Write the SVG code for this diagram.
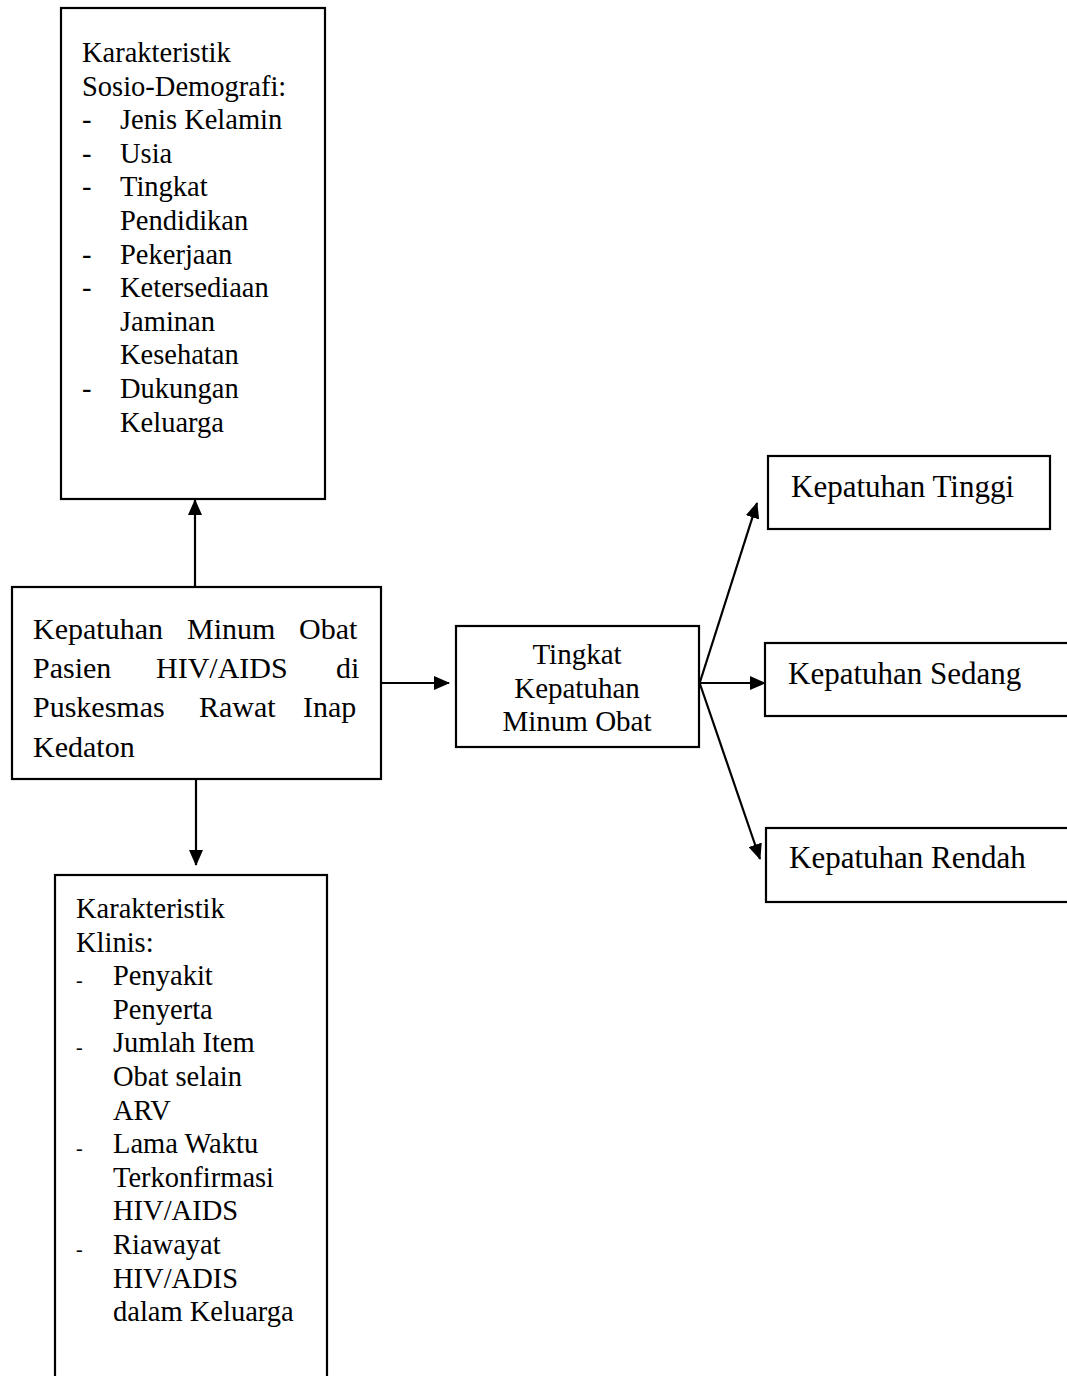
<svg xmlns="http://www.w3.org/2000/svg" width="1067" height="1376" viewBox="0 0 1067 1376">
<defs>
<style>
.box{fill:#fff;stroke:#000;stroke-width:2.2}
.t{font-family:"Liberation Serif","Times New Roman",serif;fill:#000}
.s{font-size:28.5px}
.m{font-size:30px}
.k{font-size:29px;text-anchor:middle}
.r{font-size:31px}
.d{font-size:20px}
.c{stroke:#000;stroke-width:2.2;fill:none;marker-end:url(#ah)}
</style>
<marker id="ah" viewBox="0 0 16 14" refX="15" refY="7" markerWidth="16" markerHeight="14" markerUnits="userSpaceOnUse" orient="auto"><path d="M0,0 L16,7 L0,14 z" fill="#000"/></marker>
</defs>
<rect width="1067" height="1376" fill="#fff"/>

<g id="connectors">
<path class="c" d="M195,587 V500"/>
<path class="c" d="M196,779 V865"/>
<path class="c" d="M381,683 H449"/>
<path class="c" d="M699,683 H765"/>
<path class="c" d="M700,682 L757,503"/>
<path class="c" d="M700,684 L760,859"/>
</g>

<g id="node-sosio">
<rect class="box" x="61" y="8" width="264" height="491"/>
<text class="t s" x="82" y="62">Karakteristik</text>
<text class="t s" x="82" y="95.6">Sosio-Demografi:</text>
<text class="t s" x="82" y="129.2">-</text><text class="t s" x="120" y="129.2">Jenis Kelamin</text>
<text class="t s" x="82" y="162.8">-</text><text class="t s" x="120" y="162.8">Usia</text>
<text class="t s" x="82" y="196.4">-</text><text class="t s" x="120" y="196.4">Tingkat</text>
<text class="t s" x="120" y="230">Pendidikan</text>
<text class="t s" x="82" y="263.6">-</text><text class="t s" x="120" y="263.6">Pekerjaan</text>
<text class="t s" x="82" y="297.2">-</text><text class="t s" x="120" y="297.2">Ketersediaan</text>
<text class="t s" x="120" y="330.8">Jaminan</text>
<text class="t s" x="120" y="364.4">Kesehatan</text>
<text class="t s" x="82" y="398">-</text><text class="t s" x="120" y="398">Dukungan</text>
<text class="t s" x="120" y="431.6">Keluarga</text>
</g>

<g id="node-main">
<rect class="box" x="12" y="587" width="369" height="192"/>
<text class="t m" y="639"><tspan x="33">Kepatuhan</tspan><tspan x="187">Minum</tspan><tspan x="299">Obat</tspan></text>
<text class="t m" y="678"><tspan x="33">Pasien</tspan><tspan x="156">HIV/AIDS</tspan><tspan x="336">di</tspan></text>
<text class="t m" y="717"><tspan x="33">Puskesmas</tspan><tspan x="199">Rawat</tspan><tspan x="303">Inap</tspan></text>
<text class="t m" x="33" y="757">Kedaton</text>
</g>

<g id="node-tingkat">
<rect class="box" x="456" y="626" width="243" height="121"/>
<text class="t k" x="577" y="664">Tingkat</text>
<text class="t k" x="577" y="698">Kepatuhan</text>
<text class="t k" x="577" y="731">Minum Obat</text>
</g>

<g id="node-tinggi">
<rect class="box" x="768" y="456" width="282" height="73"/>
<text class="t r" x="791" y="497">Kepatuhan Tinggi</text>
</g>

<g id="node-sedang">
<rect class="box" x="765" y="643" width="320" height="73"/>
<text class="t r" x="788" y="684">Kepatuhan Sedang</text>
</g>

<g id="node-rendah">
<rect class="box" x="766" y="828" width="320" height="74"/>
<text class="t r" x="789" y="868">Kepatuhan Rendah</text>
</g>

<g id="node-klinis">
<rect class="box" x="55" y="875" width="272" height="530"/>
<text class="t s" x="76" y="918">Karakteristik</text>
<text class="t s" x="76" y="951.6">Klinis:</text>
<text class="t d" x="76" y="987">-</text><text class="t s" x="113" y="985.2">Penyakit</text>
<text class="t s" x="113" y="1018.8">Penyerta</text>
<text class="t d" x="76" y="1054">-</text><text class="t s" x="113" y="1052.4">Jumlah Item</text>
<text class="t s" x="113" y="1086">Obat selain</text>
<text class="t s" x="113" y="1119.6">ARV</text>
<text class="t d" x="76" y="1155">-</text><text class="t s" x="113" y="1153.2">Lama Waktu</text>
<text class="t s" x="113" y="1186.8">Terkonfirmasi</text>
<text class="t s" x="113" y="1220.4">HIV/AIDS</text>
<text class="t d" x="76" y="1256">-</text><text class="t s" x="113" y="1254">Riawayat</text>
<text class="t s" x="113" y="1287.6">HIV/ADIS</text>
<text class="t s" x="113" y="1321.2">dalam Keluarga</text>
</g>
</svg>
